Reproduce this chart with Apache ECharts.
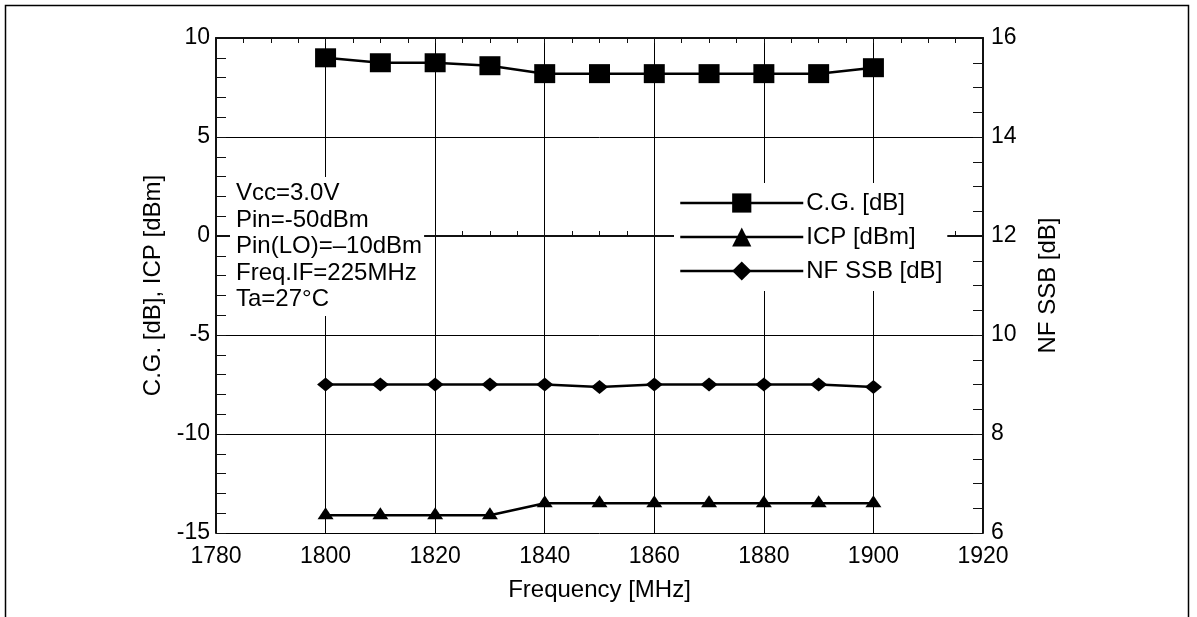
<!DOCTYPE html>
<html>
<head>
<meta charset="utf-8">
<script src="https://cdn.jsdelivr.net/npm/echarts@6/dist/echarts.min.js"></script>
<style>
  html, body { margin: 0; padding: 0; background: #fff; }
  #chart { width: 1197px; height: 617px; }
</style>
</head>
<body>
<div id="chart"></div>
<script>
// data
var freq = [1800, 1810, 1820, 1830, 1840, 1850, 1860, 1870, 1880, 1890, 1900];
var cg   = [9.0, 8.75, 8.75, 8.6, 8.2, 8.2, 8.2, 8.2, 8.2, 8.2, 8.5];
var icp  = [-14.1, -14.1, -14.1, -14.1, -13.5, -13.5, -13.5, -13.5, -13.5, -13.5, -13.5];
var nf   = [9.0, 9.0, 9.0, 9.0, 9.0, 8.95, 9.0, 9.0, 9.0, 9.0, 8.95];

var seriesNames = ['C.G. [dB]', 'ICP [dBm]', 'NF SSB [dB]'];
var xRange = [1780, 1920];     // Frequency [MHz]
var yLeftRange = [-15, 10];    // C.G. [dB], ICP [dBm]
var yRightRange = [6, 16];     // NF SSB [dB]
var noteLines = ['Vcc=3.0V', 'Pin=-50dBm', 'Pin(LO)=\u201310dBm', 'Freq.IF=225MHz', 'Ta=27\u00b0C'];

(function () {
    var FONT = 'Liberation Sans, Arial, sans-serif';
    var myChart = echarts.init(document.getElementById('chart'));

    function pairs(ys) {
        return freq.map(function (f, i) { return [f, ys[i]]; });
    }

    var axisLine = { show: true, lineStyle: { color: '#111', width: 2 } };
    var label = { color: '#000', fontSize: 23, fontFamily: FONT };
    var nameStyle = { color: '#000', fontSize: 24, fontFamily: FONT };

    var option = {
        animation: false,
        backgroundColor: '#fff',
        grid: { left: 216, right: 214, top: 38, bottom: 84, outerBoundsMode: 'none' },
        legend: {
            data: seriesNames,
            orient: 'vertical',
            left: 674,
            top: 183,
            itemWidth: 123,
            itemHeight: 24,
            itemGap: 10,
            padding: [8, 5, 8, 5],
            backgroundColor: '#fff',
            lineStyle: { width: 2.5, color: '#000' },
            textStyle: { color: '#000', fontSize: 24, fontFamily: FONT, padding: [0, 0, 0, -2] }
        },
        graphic: [
            {   // outer frame
                type: 'rect',
                shape: { x: 5.5, y: 5.5, width: 1183, height: 640 },
                style: { fill: 'none', stroke: '#000', lineWidth: 1.5 },
                silent: true, z: 0
            },
            {   // measurement conditions
                type: 'text',
                left: 230,
                top: 177,
                z: 100,
                style: {
                    text: noteLines.join('\n'),
                    fill: '#000',
                    fontSize: 24,
                    fontFamily: FONT,
                    lineHeight: 26.6,
                    backgroundColor: '#fff',
                    padding: [3, 2, 3, 6]
                }
            }
        ],
        xAxis: [
            {
                type: 'value',
                min: xRange[0], max: xRange[1], interval: 20,
                name: 'Frequency [MHz]',
                nameLocation: 'middle',
                nameGap: 45,
                nameTextStyle: nameStyle,
                axisLine: axisLine,
                axisTick: { show: true, inside: true, length: 5, lineStyle: { color: '#111' } },
                minorTick: { show: true, splitNumber: 4, length: 5, lineStyle: { color: '#111' } },
                axisLabel: Object.assign({ margin: 12, formatter: function (v) { return String(v); } }, label),
                splitLine: { show: true, lineStyle: { color: '#000', width: 1 } }
            },
            {   // top mirror
                type: 'value',
                position: 'top',
                min: xRange[0], max: xRange[1], interval: 20,
                axisLine: axisLine,
                axisTick: { show: true, inside: true, length: 5, lineStyle: { color: '#111' } },
                minorTick: { show: true, splitNumber: 4, length: 5, lineStyle: { color: '#111' } },
                axisLabel: { show: false },
                splitLine: { show: false }
            }
        ],
        yAxis: [
            {
                type: 'value',
                min: yLeftRange[0], max: yLeftRange[1], interval: 5,
                name: 'C.G. [dB], ICP [dBm]',
                nameLocation: 'middle',
                nameGap: 51,
                nameTextStyle: nameStyle,
                axisLine: axisLine,
                axisTick: { show: true, inside: true, length: 10, lineStyle: { color: '#111' } },
                minorTick: { show: true, splitNumber: 5, length: 10, lineStyle: { color: '#111' } },
                axisLabel: Object.assign({ margin: 6 }, label),
                splitLine: { show: true, lineStyle: { color: '#000', width: 1 } }
            },
            {
                type: 'value',
                position: 'right',
                min: yRightRange[0], max: yRightRange[1], interval: 2,
                name: 'NF SSB [dB]',
                nameLocation: 'middle',
                nameGap: 53,
                nameTextStyle: nameStyle,
                axisLine: axisLine,
                axisTick: { show: true, inside: true, length: 10, lineStyle: { color: '#111' } },
                minorTick: { show: true, splitNumber: 4, length: 10, lineStyle: { color: '#111' } },
                axisLabel: Object.assign({ margin: 8 }, label),
                splitLine: { show: false }
            }
        ],
        series: [
            {
                name: seriesNames[0],
                type: 'line',
                xAxisIndex: 0, yAxisIndex: 0,
                data: pairs(cg),
                symbol: 'rect',
                symbolSize: [21, 19],
                lineStyle: { color: '#000', width: 2.5 },
                itemStyle: { color: '#000' },
                z: 3
            },
            {
                name: seriesNames[1],
                type: 'line',
                xAxisIndex: 0, yAxisIndex: 0,
                data: pairs(icp),
                symbol: 'triangle',
                symbolSize: [16, 12],
                symbolOffset: [0, -2],
                lineStyle: { color: '#000', width: 2.5 },
                itemStyle: { color: '#000' },
                z: 3
            },
            {
                name: seriesNames[2],
                type: 'line',
                xAxisIndex: 0, yAxisIndex: 1,
                data: pairs(nf),
                symbol: 'diamond',
                symbolSize: [17, 14],
                lineStyle: { color: '#000', width: 2.5 },
                itemStyle: { color: '#000' },
                z: 3
            }
        ]
    };

    myChart.setOption(option);
    window.addEventListener('resize', function () {
        myChart.resize();
    });
})();
</script>
</body>
</html>
